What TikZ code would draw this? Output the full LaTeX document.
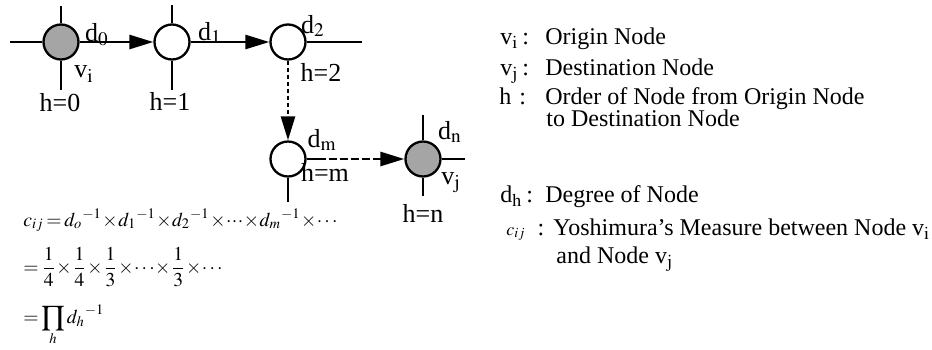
\documentclass[tikz,border=0pt]{standalone}
\usepackage{amsmath}
\usepackage{mathptmx}
\usepackage{fontspec}
\setmainfont{Liberation Serif}
\usepackage{tikz}
\usetikzlibrary{arrows.meta}
\definecolor{hubgray}{RGB}{165,165,165}
\newcommand{\lblfont}{\fontsize{13}{15}\selectfont}
\newcommand{\keyfont}{\fontsize{12}{14}\selectfont}
\newcommand{\eqfont}{\fontsize{9.8}{12}\selectfont\medmuskip=0.5mu\thickmuskip=2.5mu}

\begin{document}
\begin{tikzpicture}[x=0.5pt,y=-0.5pt]
\tikzset{
  hub/.style={circle,draw,line width=1.15pt,minimum size=17.5pt,inner sep=0pt},
  endhub/.style={hub,fill=hubgray},
  stub/.style={line width=1.35pt},
  link/.style={line width=1.35pt,-{Triangle[length=12pt,width=7pt]}},
  lbl/.style={inner sep=0pt,font=\lblfont},
  keytext/.style={inner sep=0pt,anchor=base west,font=\keyfont},
  eqline/.style={inner sep=0pt,font=\eqfont},
}
\useasboundingbox (0,0) rectangle (932,349);

% LEFT: path from origin node to destination node
\node[endhub] (vi) at (61,42) {};
\node[hub] (na) at (172,42) {};
\node[hub] (nb) at (288,42) {};
\node[hub] (nm) at (288,159) {};
\node[endhub] (vj) at (423,159) {};
% stubs (other links of each node)
\draw[stub] (vi.west) -- ++(-32,0);
\draw[stub] (vi.north) -- ++(0,-17);
\draw[stub] (vi.south) -- ++(0,29);
\draw[stub] (na.north) -- ++(0,-18);
\draw[stub] (na.south) -- ++(0,29);
\draw[stub] (nb.east) -- ++(55,0);
\draw[stub] (nm.south) -- ++(0,24);
\draw[stub] (vj.north) -- ++(0,-25);
\draw[stub] (vj.south) -- ++(0,18);
\draw[stub] (vj.east) -- ++(23,0);
% links along the path
\draw[link] (vi) -- (na);
\draw[link] (na) -- (nb);
\draw[link,dash pattern=on 2pt off 1.5pt] (nb) -- (nm);
\draw[link,dash pattern=on 4pt off 1.5pt] (nm) -- (vj);
\draw[stub] (nm.east) -- ++(11,0);
% node labels
\node[lbl] (ld0) at (97,35) {d$_{\mathrm{0}}$};
\node[lbl] (lvi) at (84,74) {v$_{\mathrm{i}}$};
\node[lbl] (lh0) at (60,103) {h=0};
\node[lbl] (ld1) at (210,33) {d$_{\mathrm{1}}$};
\node[lbl] (lh1) at (170,101) {h=1};
\node[lbl] (ld2) at (313,26) {d$_{\mathrm{2}}$};
\node[lbl] (lh2) at (321,72) {h=2};
\node[lbl] (ldm) at (322,140) {d$_{\mathrm{m}}$};
\node[lbl] (lhm) at (325,172) {h=m};
\node[lbl] (ldn) at (450,132) {d$_{\mathrm{n}}$};
\node[lbl] (lvj) at (451,183) {v$_{\mathrm{j}}$};
\node[lbl] (lhn) at (423,213) {h=n};

% BOTTOM LEFT: the measure written out
\node[eqline,anchor=base west] (eqa) at (23,226)
  {$c_{ij}=d_o{}^{-1}\times d_1{}^{-1}\times d_2{}^{-1}\times\cdot\cdot\cdot\times d_m{}^{-1}\times\cdots$};
\node[eqline,anchor=west] (eqb) at (23,267)
  {$=\dfrac{1}{4}\times\dfrac{1}{4}\times\dfrac{1}{3}\times\cdots\times\dfrac{1}{3}\times\cdots$};
\node[eqline,anchor=base west] (eqc) at (23,323)
  {$=\displaystyle\prod_h d_h{}^{-1}$};

% RIGHT: legend
\node[keytext] (kvi) at (500,44) {v$_{\mathrm{i}}$\,:};
\node[keytext] (tvi) at (545,44) {Origin Node};
\node[keytext] (kvj) at (500,75) {v$_{\mathrm{j}}$\,:};
\node[keytext] (tvj) at (545,75) {Destination Node};
\node[keytext] (kh) at (499,104) {h\,\,:};
\node[keytext] (th) at (545,104) {Order of Node from Origin Node};
\node[keytext] (th2) at (546,126) {to Destination Node};
\node[keytext] (kdh) at (500,202) {d$_{\mathrm{h}}$\,:};
\node[keytext] (tdh) at (545,202) {Degree of Node};
\node[keytext] (kc) at (506,235) {$\scriptstyle c_{ij}$\,\,\,:};
\node[keytext] (tc) at (553,235) {Yoshimura's Measure between Node v$_{\mathrm{i}}$};
\node[keytext] (tc2) at (556,263) {and Node v$_{\mathrm{j}}$};
\end{tikzpicture}
\end{document}
